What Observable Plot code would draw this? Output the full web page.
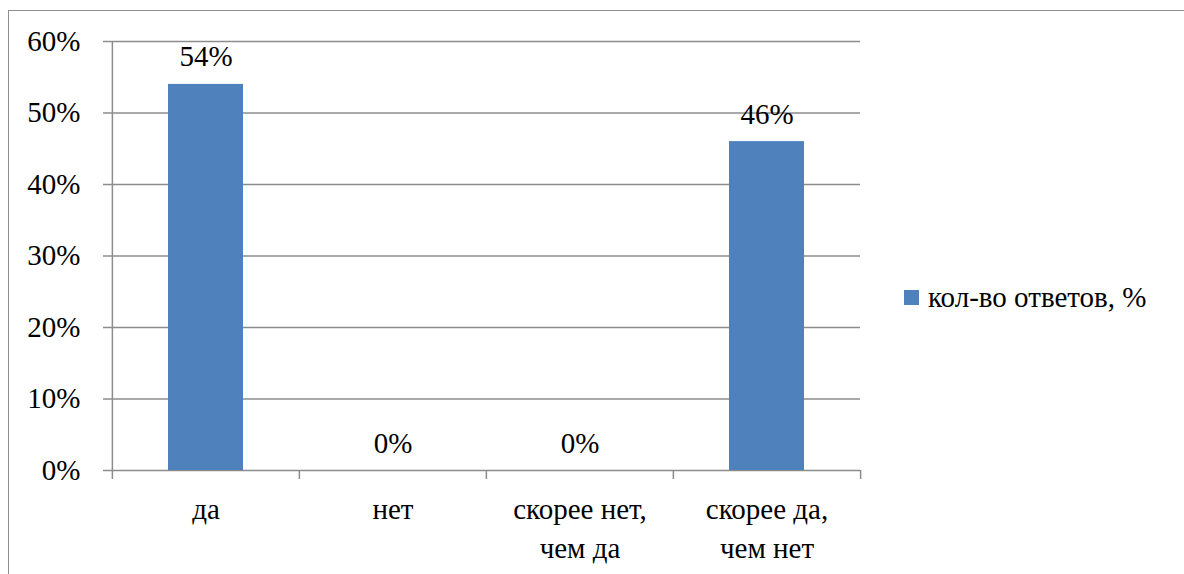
<!DOCTYPE html>
<html>
<head>
<meta charset="utf-8">
<script src="https://cdn.jsdelivr.net/npm/d3@7"></script>
<script src="https://cdn.jsdelivr.net/npm/@observablehq/plot@0.6"></script>
<style>
  html, body { margin: 0; padding: 0; background: #fff; overflow: hidden; }
  #wrap { position: relative; width: 1184px; height: 574px; overflow: hidden; }
  #border { position: absolute; left: 8px; top: 10px; width: 1300px; height: 700px; border-left: 1.5px solid #8f8f8f; border-top: 1.5px solid #8f8f8f; }
  #chart { position: absolute; left: 0; top: 0; }
  #legend { position: absolute; left: 904px; top: 281px; font-family: "Liberation Serif", "Times New Roman", Tinos, "DejaVu Serif", "Noto Serif", serif; font-size: 29px; color: #000; display: flex; align-items: center; white-space: nowrap; }
  #legend .sw { width: 15px; height: 15px; background: #4f81bd; margin-right: 9px; }
  #chart svg text { font-family: "Liberation Serif", "Times New Roman", Tinos, "DejaVu Serif", "Noto Serif", serif; }
</style>
</head>
<body>
<div id="wrap">
  <div id="border"></div>
  <div id="chart"></div>
  <div id="legend"><span class="sw"></span><span id="legendText"></span></div>
</div>
<script>
const categories = ["да", "нет", "скорее нет, чем да", "скорее да, чем нет"];
const values = [0.54, 0, 0, 0.46];
const seriesName = "кол-во ответов, %";
const yTicks = [0, 0.1, 0.2, 0.3, 0.4, 0.5, 0.6];

const data = categories.map((c, i) => ({category: c, value: values[i]}));
const pct = d3.format(".0%");

const W = 1184, H = 574;
const mL = 111, mR = 324, mT = 41, mB = 104;
const step = (W - mL - mR) / categories.length;
const gridColor = "#8c8c8c";

const chart = Plot.plot({
  width: W,
  height: H,
  marginLeft: mL,
  marginRight: mR,
  marginTop: mT,
  marginBottom: mB,
  style: {fontSize: "29px", color: "#000", background: "transparent"},
  x: {domain: categories, paddingInner: 0.6, paddingOuter: 0.3},
  y: {domain: [0, 0.6]},
  marks: [
    Plot.ruleY(yTicks, {stroke: gridColor, strokeWidth: 1.5}),
    Plot.axisY({ticks: yTicks, tickFormat: pct, tickSize: 8, tickPadding: 23, stroke: gridColor, strokeWidth: 1.5, fill: "#000", fontSize: 29, label: null}),
    Plot.barY(data, {x: "category", y: "value", fill: "#4f81bd"}),
    Plot.ruleX([categories[0]], {x: d => d, y1: 0.6, y2: 0, dx: -step / 2, insetBottom: -9, stroke: gridColor, strokeWidth: 1.5}),
    Plot.ruleX(categories.slice(1), {x: d => d, y1: 0, y2: 0, dx: -step / 2, insetBottom: -9, stroke: gridColor, strokeWidth: 1.5}),
    Plot.ruleX([categories[categories.length - 1]], {x: d => d, y1: 0, y2: 0, dx: step / 2, insetBottom: -9, stroke: gridColor, strokeWidth: 1.5}),
    Plot.axisX({tickSize: 0, tickPadding: 21, tickFormat: d => d.replace(", ", ",\n"), lineHeight: 1.34, fill: "#000", fontSize: 29, label: null}),
    Plot.text(data, {x: "category", y: "value", text: d => pct(d.value), lineAnchor: "bottom", dy: -18, fill: "#000", fontSize: 29})
  ]
});
document.getElementById("chart").appendChild(chart);
document.getElementById("legendText").textContent = seriesName;
</script>
</body>
</html>
